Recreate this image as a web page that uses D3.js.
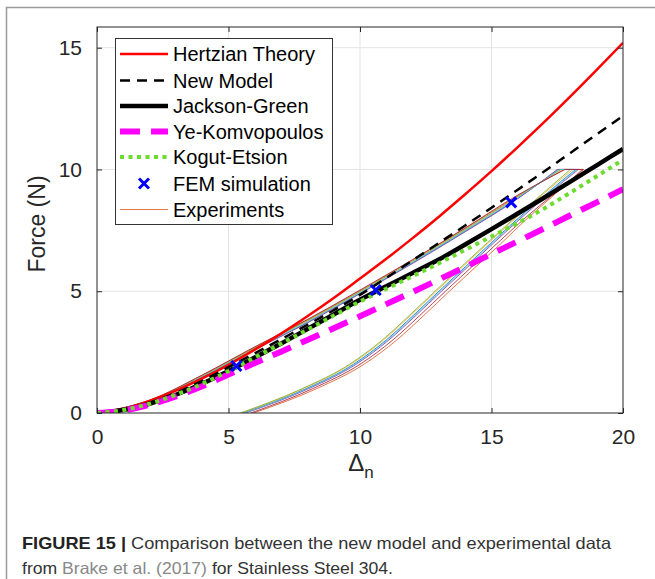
<!DOCTYPE html>
<html>
<head>
<meta charset="utf-8">
<script src="https://cdn.jsdelivr.net/npm/d3@7"></script>
<style>
  body { margin: 0; background: #fff; }
  svg { display: block; }
</style>
</head>
<body>
<svg id="chart"></svg>
<script>
// model curves at whole delta steps
let delta = [0,1,2,3,4,5,6,7,8,9,10,11,12,13,14,15,16,17,18,19,20]
let hertz = [0,0.17,0.5,0.92,1.42,1.98,2.6,3.26,3.97,4.72,5.52,6.33,7.18,8.06,8.98,9.93,10.92,11.94,13.0,14.09,15.2]
let newModel = [0,0.13,0.42,0.82,1.32,1.88,2.45,3.03,3.62,4.22,4.85,5.55,6.27,6.98,7.7,8.43,9.17,9.92,10.68,11.44,12.2]
let jacksonGreen = [0,0.12,0.38,0.75,1.2,1.72,2.28,2.85,3.45,4.05,4.65,5.2,5.75,6.3,6.92,7.55,8.19,8.84,9.5,10.17,10.84]
let yeKomvo = [0,0.1,0.34,0.68,1.1,1.58,2.05,2.52,3.0,3.48,3.97,4.47,4.97,5.48,6.0,6.53,7.05,7.58,8.12,8.65,9.19]
let kogutEtsion = [0,0.12,0.38,0.75,1.2,1.72,2.28,2.85,3.42,4.0,4.58,5.1,5.62,6.15,6.7,7.25,7.8,8.4,9.05,9.72,10.4]

// FEM points
let femDelta = [5.3, 10.6, 15.75]
let femForce = [1.93, 5.05, 8.65]

// experiments: loading branch
let expLoadDelta = [0,2,4,6,8,10,12,14,16]
let expLoadForce = [
  [0,0.5,1.48,2.62,3.72,4.92,6.17,7.47,8.82],
  [0,0.52,1.55,2.7,3.82,5.02,6.28,7.58,8.92],
  [0,0.5,1.5,2.66,3.77,4.97,6.22,7.52,8.87],
  [0,0.49,1.46,2.6,3.7,4.9,6.14,7.44,8.8],
  [0,0.51,1.52,2.68,3.79,4.99,6.24,7.54,8.89],
  [0,0.5,1.49,2.63,3.74,4.94,6.19,7.49,8.84],
  [0,0.53,1.56,2.72,3.84,5.05,6.3,7.6,8.95]
]
let expPeakForce = 10
let expPeakLoad = [17.55,17.75,17.6,17.5,17.65,17.58,17.8]
// experiments: unloading branch
let expUnloadForce = [10,9,8,7,6,5,4,3,2,1,0]
let expUnloadDelta = [
  [18.2,17.08,16.02,15.0,14.0,13.0,12.02,11.0,9.75,7.95,5.55],
  [18.45,17.43,16.37,15.4,14.4,13.4,12.42,11.4,10.15,8.35,5.95],
  [18.1,16.98,15.92,14.9,13.9,12.9,11.92,10.9,9.65,7.85,5.5],
  [18.3,17.18,16.12,15.1,14.1,13.1,12.12,11.1,9.85,8.05,5.65],
  [18.0,16.93,15.87,14.85,13.85,12.85,11.87,10.85,9.6,7.8,5.45],
  [18.25,17.13,16.07,15.05,14.05,13.05,12.07,11.05,9.8,8.0,5.6],
  [18.5,17.38,16.27,15.25,14.25,13.25,12.27,11.25,10.0,8.2,5.85]
]
let expColors = ['#0072BD','#D95319','#EDB120','#7E2F8E','#77AC30','#4DBEEE','#A2142F']

let xTicks = [0,5,10,15,20]
let yTicks = [0,5,10,15]

let width = 655
let height = 579
let padLeft = 97
let padRight = 623
let padTop = 27
let padBottom = 413

let svg = d3.select('#chart')
    .attr('width', width)
    .attr('height', height)
    .style('font-family', "'Liberation Sans', Arial, Helvetica, sans-serif")

// figure frame
svg.append('path')
    .attr('d', 'M6.5,' + height + ' V7.5 H' + width)
    .attr('fill', 'none')
    .attr('stroke', '#9a9a9a')
    .attr('stroke-width', 1.5)

let xScale = d3.scaleLinear().domain([0, 20]).range([padLeft, padRight])
let yScale = d3.scaleLinear().domain([0, 15.85]).range([padBottom, padTop])

// grid
svg.append('g').selectAll('line')
    .data(xTicks.slice(1, -1))
    .enter()
    .append('line')
    .attr('x1', (d) => xScale(d)).attr('x2', (d) => xScale(d))
    .attr('y1', padTop).attr('y2', padBottom)
    .attr('stroke', '#e3e3e3')
svg.append('g').selectAll('line')
    .data(yTicks.slice(1))
    .enter()
    .append('line')
    .attr('x1', padLeft).attr('x2', padRight)
    .attr('y1', (d) => yScale(d)).attr('y2', (d) => yScale(d))
    .attr('stroke', '#e3e3e3')

svg.append('clipPath').attr('id', 'clip')
    .append('rect').attr('x', padLeft).attr('y', padTop).attr('width', padRight - padLeft).attr('height', padBottom - padTop)
let plot = svg.append('g').attr('clip-path', 'url(#clip)')

let line = d3.line()
    .x((d) => xScale(d[0]))
    .y((d) => yScale(d[1]))
    .curve(d3.curveMonotoneX)

// experiments
expLoadForce.forEach((run, i) => {
    let loadPts = expLoadDelta.map((d, j) => [d, run[j]])
    loadPts.push([expPeakLoad[i], expPeakForce])
    let unloadPts = expUnloadDelta[i].map((d, j) => [d, expUnloadForce[j]]).reverse()
    plot.append('path')
        .attr('d', line(loadPts))
        .attr('fill', 'none').attr('stroke', expColors[i]).attr('stroke-width', 0.8)
    plot.append('line')
        .attr('x1', xScale(expPeakLoad[i])).attr('x2', xScale(expUnloadDelta[i][0]))
        .attr('y1', yScale(expPeakForce)).attr('y2', yScale(expPeakForce))
        .attr('stroke', expColors[i]).attr('stroke-width', 0.8)
    plot.append('path')
        .attr('d', line(unloadPts))
        .attr('fill', 'none').attr('stroke', expColors[i]).attr('stroke-width', 0.8)
})

let series = [
    { name: 'Hertzian Theory', values: hertz, color: '#ff0000', width: 2.5, dash: null },
    { name: 'New Model', values: newModel, color: '#000000', width: 2.5, dash: '10,7' },
    { name: 'Jackson-Green', values: jacksonGreen, color: '#000000', width: 4.5, dash: null },
    { name: 'Ye-Komvopoulos', values: yeKomvo, color: '#ff00ff', width: 6, dash: '20,11' },
    { name: 'Kogut-Etsion', values: kogutEtsion, color: '#6cdc2c', width: 4, dash: '4,4.5' }
]

series.forEach((s) => {
    plot.append('path')
        .attr('d', line(delta.map((d, j) => [d, s.values[j]])))
        .attr('fill', 'none')
        .attr('stroke', s.color)
        .attr('stroke-width', s.width)
        .attr('stroke-dasharray', s.dash)
})

// FEM markers
let cross = (g, x, y) => {
    g.append('path')
        .attr('d', 'M' + (x - 5) + ',' + (y - 5) + 'L' + (x + 5) + ',' + (y + 5) + 'M' + (x - 5) + ',' + (y + 5) + 'L' + (x + 5) + ',' + (y - 5))
        .attr('stroke', '#0000ff').attr('stroke-width', 3)
}
femDelta.forEach((d, i) => cross(plot, xScale(d), yScale(femForce[i])))

// axes box with inward ticks
let axisColor = '#262626'
svg.append('rect')
    .attr('x', padLeft).attr('y', padTop).attr('width', padRight - padLeft).attr('height', padBottom - padTop)
    .attr('fill', 'none').attr('stroke', axisColor).attr('stroke-width', 1)

let xAxis = d3.axisBottom(xScale).tickValues(xTicks).tickSizeInner(-5).tickSizeOuter(0).tickPadding(16)
let yAxis = d3.axisLeft(yScale).tickValues(yTicks).tickSizeInner(-5).tickSizeOuter(0).tickPadding(15)

let styleAxis = (g) => {
    g.select('.domain').remove()
    g.selectAll('.tick line').attr('stroke', axisColor)
    g.selectAll('.tick text').attr('fill', axisColor).style('font-size', '21px').style('font-family', "'Liberation Sans', Arial, sans-serif")
}

svg.append('g').attr('transform', 'translate(0,' + padBottom + ')').call(xAxis).call(styleAxis)
svg.append('g').attr('transform', 'translate(' + padLeft + ',0)').call(yAxis).call(styleAxis)
svg.append('g').attr('transform', 'translate(0,' + padTop + ')')
    .call(d3.axisTop(xScale).tickValues(xTicks).tickSizeInner(-5).tickSizeOuter(0).tickFormat(''))
    .call(styleAxis)
svg.append('g').attr('transform', 'translate(' + padRight + ',0)')
    .call(d3.axisRight(yScale).tickValues(yTicks).tickSizeInner(-5).tickSizeOuter(0).tickFormat(''))
    .call(styleAxis)

// axis labels
svg.append('text')
    .attr('transform', 'translate(45,' + ((padTop + padBottom) / 2 + 4) + ') rotate(-90)')
    .attr('text-anchor', 'middle')
    .attr('fill', axisColor)
    .style('font-size', '23px')
    .text('Force (N)')

let xl = svg.append('text')
    .attr('x', 361).attr('y', 471)
    .attr('text-anchor', 'middle')
    .attr('fill', axisColor)
    .style('font-size', '24px')
xl.append('tspan').text('Δ')
xl.append('tspan').attr('dy', 7).style('font-size', '17px').text('n')

// legend
let lg = svg.append('g')
lg.append('rect')
    .attr('x', 115.5).attr('y', 38.5).attr('width', 217).attr('height', 186)
    .attr('fill', '#fff').attr('stroke', '#333').attr('stroke-width', 1)

let legendItems = series.map((s) => s).concat([
    { name: 'FEM simulation', marker: true },
    { name: 'Experiments', color: '#D95319', width: 0.8, dash: null }
])
let rowY = [54, 80.5, 106, 131.5, 157, 183.5, 209.5]
legendItems.forEach((s, i) => {
    let y = rowY[i]
    if (s.marker) {
        cross(lg, 144, y)
    } else {
        lg.append('line')
            .attr('x1', 120).attr('x2', 168)
            .attr('y1', y).attr('y2', y)
            .attr('stroke', s.color)
            .attr('stroke-width', s.width)
            .attr('stroke-dasharray', s.dash)
    }
    lg.append('text')
        .attr('x', 173).attr('y', y)
        .attr('dy', '0.35em')
        .attr('fill', '#000')
        .style('font-size', '20px')
        .text(s.name)
})

// caption
let cap1 = svg.append('text')
    .attr('x', 22).attr('y', 549)
    .attr('fill', '#333')
    .style('font-size', '16.5px')
    .attr('textLength', 589)
    .attr('lengthAdjust', 'spacingAndGlyphs')
cap1.append('tspan').style('font-weight', 'bold').attr('fill', '#222').text('FIGURE 15 | ')
cap1.append('tspan').text('Comparison between the new model and experimental data')

let cap2 = svg.append('text')
    .attr('x', 22).attr('y', 574)
    .attr('fill', '#333')
    .style('font-size', '16.5px')
    .attr('textLength', 371)
    .attr('lengthAdjust', 'spacingAndGlyphs')
cap2.append('tspan').text('from ')
cap2.append('tspan').attr('fill', '#888').text('Brake et al. (2017)')
cap2.append('tspan').text(' for Stainless Steel 304.')
</script>
</body>
</html>
